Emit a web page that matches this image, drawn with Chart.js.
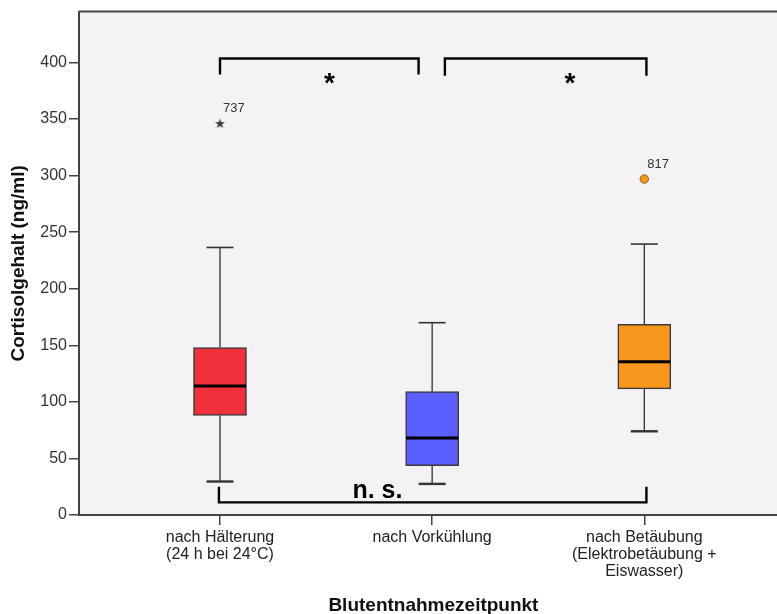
<!DOCTYPE html>
<html>
<head>
<meta charset="utf-8">
<script src="https://cdn.jsdelivr.net/npm/chart.js@4.4.1/dist/chart.umd.min.js"></script>
<style>
    html, body { margin: 0; padding: 0; background: #fff; overflow: hidden; }
    #wrap { width: 777px; height: 614px; overflow: hidden; }
    #chart_cortisol { display: block; }
</style>
</head>
<body>
<div id="wrap"><canvas id="chart_cortisol"></canvas></div>
<script>
// Blutentnahmezeitpunkte, plotted at x = 1, 2, 3
const categories = [
    ["nach Hälterung", "(24 h bei 24°C)"],
    ["nach Vorkühlung"],
    ["nach Betäubung", "(Elektrobetäubung +", "Eiswasser)"]
];
const box_colors = ["#F0313B", "#5A60FF", "#F8971D"];

// Cortisol (ng/ml) per group: whiskers, quartiles, median
const whisker_low = [29.6, 27.5, 74];
const quartile_1 = [88, 43.5, 111.5];
const median = [114, 68, 135.5];
const quartile_3 = [148, 109, 168.5];
const whisker_high = [236.5, 170, 239.5];

// extreme value (star) and outlier (circle), with case number
const extreme_points = [{ x: 1, y: 346, id: "737" }];
const outlier_points = [{ x: 3, y: 297, id: "817" }];

const y_ticks = [0, 50, 100, 150, 200, 250, 300, 350, 400];

const x_title = "Blutentnahmezeitpunkt";
const y_title = "Cortisolgehalt (ng/ml)";

// pairwise tests: [group a, group b, result]
const comparisons = [
    [1, 2, "*"],
    [2, 3, "*"],
    [1, 3, "n. s."]
];

const FONT = "'Liberation Sans', Arial, sans-serif";

// small filled star for the extreme value marker
function make_star()
{
    const c = document.createElement("canvas");
    c.width = 11; c.height = 11;
    const g = c.getContext("2d");
    g.fillStyle = "#3a3a3a";
    g.beginPath();
    for (let i = 0; i < 10; i++) {
        const r = i % 2 ? 2.1 : 5.2;
        const a = -Math.PI / 2 + i * Math.PI / 5;
        g.lineTo(5.5 + r * Math.cos(a), 5.7 + r * Math.sin(a));
    }
    g.closePath();
    g.fill();
    return c;
}

const boxplot_parts = {
    id: "boxplot_parts",

    beforeDraw(chart) {
        const { ctx, chartArea: a } = chart;
        ctx.save();
        ctx.fillStyle = "#F5F2F6";
        ctx.fillRect(a.left, a.top, a.right - a.left, a.bottom - a.top);
        ctx.strokeStyle = "#444";
        ctx.lineWidth = 2;
        ctx.beginPath();
        ctx.moveTo(a.left, a.top);
        ctx.lineTo(a.right, a.top);
        ctx.stroke();
        ctx.restore();
    },

    beforeDatasetsDraw(chart) {
        const { ctx, scales: { x, y } } = chart;
        ctx.save();
        ctx.strokeStyle = "#333";
        categories.forEach((c, i) => {
            const cx = x.getPixelForValue(i + 1);
            ctx.lineWidth = 1.3;
            ctx.beginPath();
            ctx.moveTo(cx, y.getPixelForValue(whisker_high[i]));
            ctx.lineTo(cx, y.getPixelForValue(quartile_3[i]));
            ctx.moveTo(cx, y.getPixelForValue(quartile_1[i]));
            ctx.lineTo(cx, y.getPixelForValue(whisker_low[i]));
            ctx.stroke();
            ctx.lineWidth = 1.6;
            ctx.beginPath();
            ctx.moveTo(cx - 13.5, y.getPixelForValue(whisker_high[i]));
            ctx.lineTo(cx + 13.5, y.getPixelForValue(whisker_high[i]));
            ctx.stroke();
            ctx.lineWidth = 2.4;
            ctx.beginPath();
            ctx.moveTo(cx - 13.5, y.getPixelForValue(whisker_low[i]));
            ctx.lineTo(cx + 13.5, y.getPixelForValue(whisker_low[i]));
            ctx.stroke();
        });
        ctx.restore();
    },

    afterDatasetsDraw(chart) {
        const { ctx, scales: { x, y } } = chart;
        ctx.save();

        // medians
        ctx.strokeStyle = "#000";
        ctx.lineWidth = 3;
        median.forEach((m, i) => {
            const cx = x.getPixelForValue(i + 1);
            ctx.beginPath();
            ctx.moveTo(cx - 26, y.getPixelForValue(m));
            ctx.lineTo(cx + 26, y.getPixelForValue(m));
            ctx.stroke();
        });

        // case numbers next to the outliers
        ctx.fillStyle = "#333";
        ctx.font = "13px " + FONT;
        ctx.textBaseline = "middle";
        ctx.textAlign = "left";
        extreme_points.concat(outlier_points).forEach(p => {
            ctx.fillText(p.id, x.getPixelForValue(p.x) + 3, y.getPixelForValue(p.y) - 15);
        });

        // significance brackets
        const opts = chart.options.plugins.boxplot_parts;
        ctx.strokeStyle = "#000";
        ctx.fillStyle = "#000";
        ctx.lineWidth = 2.4;
        ctx.textAlign = "center";
        comparisons.forEach((cmp, k) => {
            const b = opts.brackets[k];
            const x0 = x.getPixelForValue(cmp[0] + b.inset[0]);
            const x1 = x.getPixelForValue(cmp[1] + b.inset[1]);
            const yb = y.getPixelForValue(b.bar);
            const yl = y.getPixelForValue(b.leg);
            ctx.beginPath();
            ctx.moveTo(x0, yl);
            ctx.lineTo(x0, yb);
            ctx.lineTo(x1, yb);
            ctx.lineTo(x1, yl);
            ctx.stroke();
            ctx.font = "bold " + b.size + "px " + FONT;
            ctx.textBaseline = "alphabetic";
            ctx.fillText(cmp[2], x.getPixelForValue(b.text_x), y.getPixelForValue(b.text_y));
        });

        // x axis title, centred under the groups
        ctx.fillStyle = "#111";
        ctx.font = "bold 19px " + FONT;
        ctx.textAlign = "center";
        ctx.textBaseline = "alphabetic";
        ctx.fillText(x_title, x.getPixelForValue(opts.x_title_at), 611);
        ctx.restore();
    }
};

new Chart(document.getElementById("chart_cortisol"), {
    data: {
        datasets: [{
            type: "bar",
            data: categories.map((c, i) => ({ x: i + 1, y: [quartile_1[i], quartile_3[i]] })),
            backgroundColor: box_colors,
            borderColor: "#3a3a3a",
            borderWidth: 1.5,
            borderSkipped: false,
            barThickness: 53
        }, {
            type: "scatter",
            data: extreme_points,
            pointStyle: make_star(),
            pointRadius: 5
        }, {
            type: "scatter",
            data: outlier_points,
            pointStyle: "circle",
            pointRadius: 4.2,
            backgroundColor: "#F8971D",
            borderColor: "#9B5B12",
            borderWidth: 1
        }]
    },
    options: {
        responsive: true,
        maintainAspectRatio: false,
        animation: false,
        layout: { autoPadding: false, padding: { top: 9, left: 0, right: 0, bottom: 0 } },
        plugins: {
            legend: { display: false },
            tooltip: { enabled: false },
            boxplot_parts: {
                x_title_at: 2.006,
                brackets: [
                    { inset: [0, -0.064], bar: 403.6, leg: 389.5, text_x: 1.516, text_y: 374, size: 28 },
                    { inset: [0.06, 0.01], bar: 403.6, leg: 388.4, text_x: 2.649, text_y: 374, size: 28 },
                    { inset: [-0.005, 0.01], bar: 11.2, leg: 24.9, text_x: 1.742, text_y: 14.8, size: 25 }
                ]
            }
        },
        scales: {
            x: {
                type: "linear",
                offset: false,
                min: 0.3354,
                max: 3.6255,
                afterFit: s => { s.height = 99; s.paddingLeft = 0; s.paddingRight = 0; },
                afterBuildTicks: s => { s.ticks = categories.map((c, i) => ({ value: i + 1 })); },
                border: { display: true, color: "#444", width: 2 },
                grid: { offset: false, drawOnChartArea: false, drawTicks: true, tickLength: 10, color: "#444", lineWidth: 1.5 },
                ticks: {
                    autoSkip: false,
                    maxRotation: 0,
                    padding: 4,
                    color: "#222",
                    font: { family: FONT, size: 16, lineHeight: 1.06 },
                    callback: v => categories[v - 1]
                }
            },
            y: {
                min: 0,
                max: 445,
                afterFit: s => { s.width = 79; },
                afterBuildTicks: s => { s.ticks = y_ticks.map(v => ({ value: v })); },
                border: { display: true, color: "#444", width: 2 },
                grid: { drawOnChartArea: false, drawTicks: true, tickLength: 10, color: "#444", lineWidth: 1.5 },
                ticks: {
                    padding: 2,
                    color: "#333",
                    font: { family: FONT, size: 16 }
                },
                title: {
                    display: true,
                    text: y_title,
                    color: "#111",
                    font: { family: FONT, size: 19, weight: "bold" },
                    padding: { top: 7, bottom: 0 }
                }
            }
        }
    },
    plugins: [boxplot_parts]
});
</script>
</body>
</html>
